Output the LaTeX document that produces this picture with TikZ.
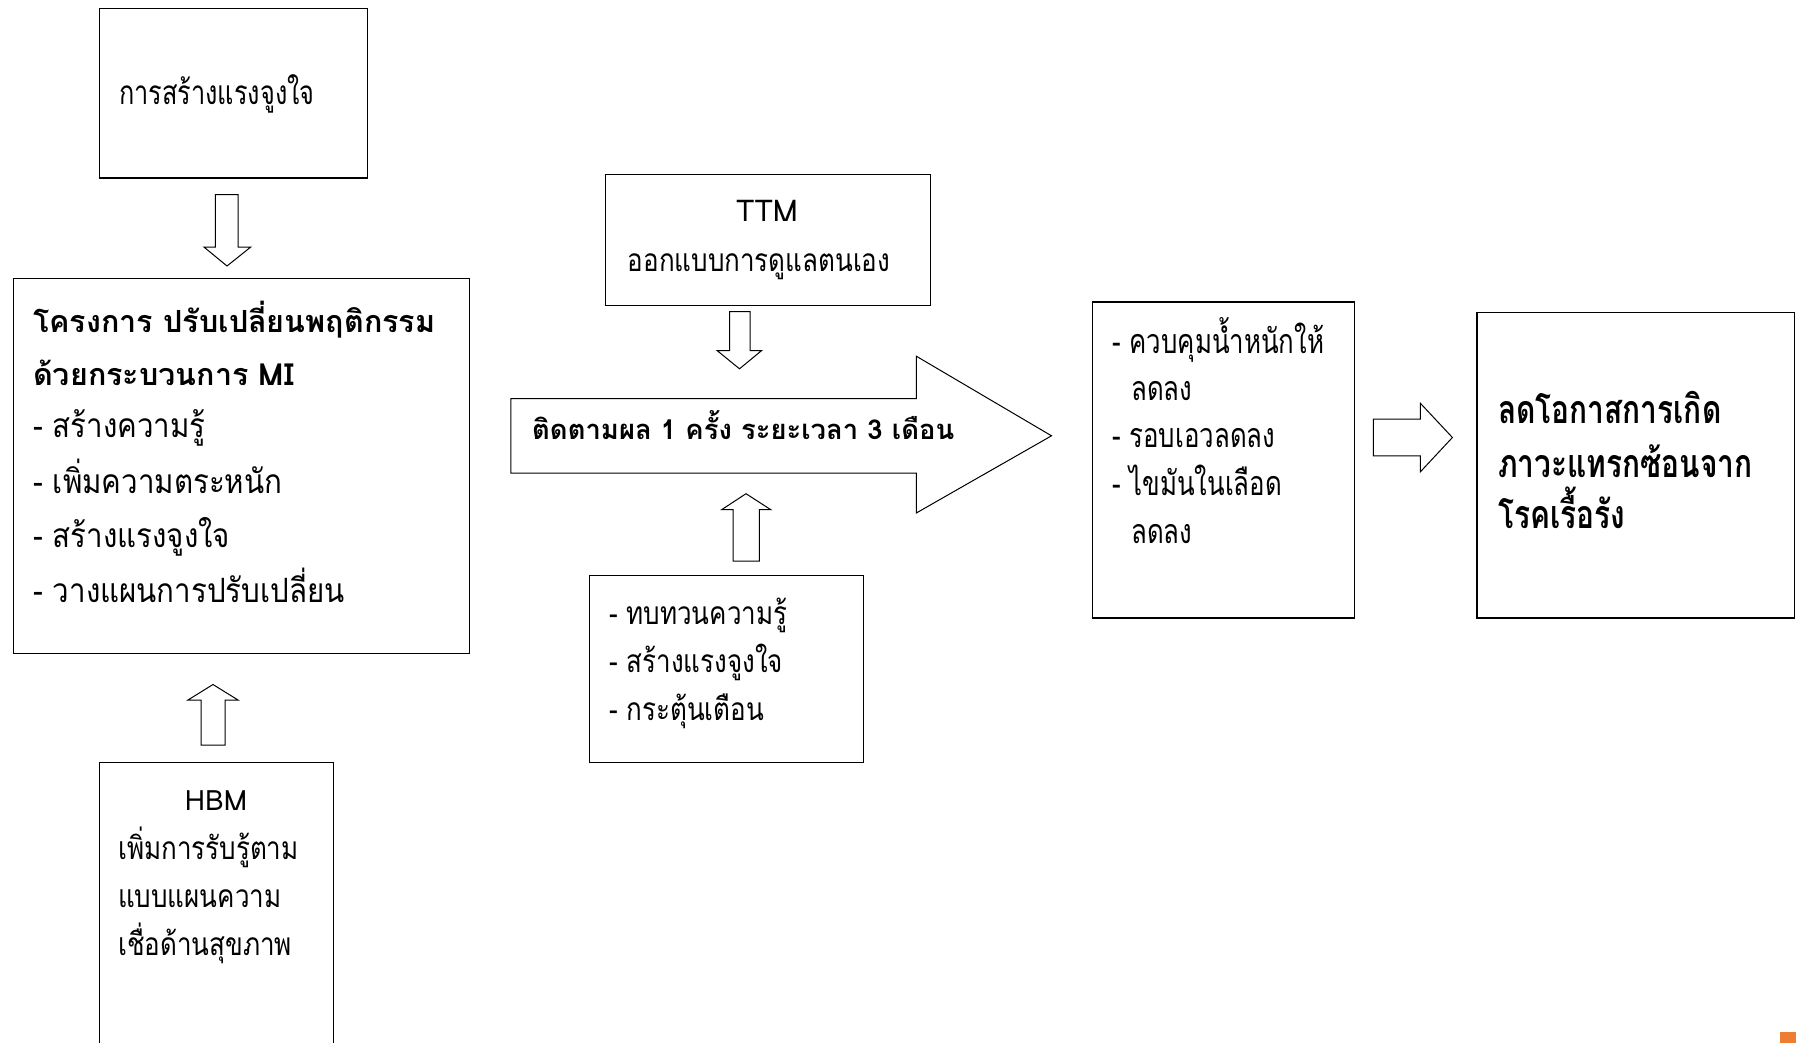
\documentclass[tikz,border=0pt]{standalone}
\usepackage{fontspec}
\newfontfamily\thai[Script=Thai]{Loma}
\newfontfamily\thaiK[Script=Thai,FakeStretch=0.82]{Loma}
\newfontfamily\thaiM[Script=Thai,FakeStretch=0.88]{Loma}
\newfontfamily\thaiC[Script=Thai,FakeStretch=0.76]{Loma}
\definecolor{accent}{HTML}{ED7D31}
\tikzset{
  box/.style={draw, line width=1.3pt, anchor=north west, inner sep=0pt},
  barrow/.style={draw, line width=1pt, fill=white, line join=miter},
  lw/.style={anchor=base west, inner sep=0pt},
  lc/.style={anchor=base, inner sep=0pt},
  f1txt/.style={lw, font=\thaiC\fontsize{33.3}{38}\selectfont},
  btxt/.style={lw, font=\thai\bfseries\fontsize{30.5}{34}\selectfont},
  mtxt/.style={lw, font=\thaiM\fontsize{33.5}{38}\selectfont},
  ktxt/.style={lw, font=\thaiK\fontsize{31.7}{36}\selectfont},
  ktxtc/.style={lc, font=\thaiK\fontsize{31.7}{36}\selectfont},
  lat/.style={lc, font=\thai\fontsize{30}{34}\selectfont},
  atxt/.style={lw, font=\thai\bfseries\fontsize{27.4}{30}\selectfont},
  ctxt/.style={lw, font=\thaiC\fontsize{34}{38}\selectfont},
  ftxt/.style={lw, font=\thaiC\bfseries\fontsize{39.3}{44}\selectfont},
}
\begin{document}
\begin{tikzpicture}[x=1pt,y=-1pt]
\clip (0,0) rectangle (1796,1043);
\fill[white] (0,0) rectangle (1796,1043);

% boxes
\node[box, minimum width=268pt, minimum height=169.5pt] (b1) at (98.5,8) {};
\node[box, minimum width=456pt, minimum height=375pt] (b2) at (12.6,278) {};
\node[box, minimum width=234.5pt, minimum height=320pt] (hbm) at (98.5,762) {};
\node[box, minimum width=325pt, minimum height=131pt] (ttm) at (605,174) {};
\node[box, minimum width=274pt, minimum height=186.7pt] (rev) at (588.7,575) {};
\node[box, minimum width=262.3pt, minimum height=316.2pt] (res) at (1091.6,301.2) {};
\node[box, minimum width=317.6pt, minimum height=305.9pt] (fin) at (1476.4,311.5) {};

% block arrows
\draw[barrow] (215.3,194.7) -- (238.2,194.7) -- (238.2,247) -- (250.8,247) -- (227,266) -- (203.9,247) -- (215.3,247) -- cycle;
\draw[barrow] (201,745) -- (225,745) -- (225,700) -- (238,700) -- (213,684.5) -- (188,700) -- (201,700) -- cycle;
\draw[barrow] (729.6,311.5) -- (750.2,311.5) -- (750.2,350.5) -- (761.7,350.5) -- (739.5,368.8) -- (717,350.5) -- (729.6,350.5) -- cycle;
\draw[barrow] (733,561.2) -- (759.4,561.2) -- (759.4,509.7) -- (770.8,509.7) -- (746,493.7) -- (721.6,509.7) -- (733,509.7) -- cycle;
\draw[barrow] (1373.3,419.2) -- (1420.3,419.2) -- (1420.3,403.2) -- (1452.4,437.5) -- (1420.3,471.9) -- (1420.3,455.9) -- (1373.3,455.9) -- cycle;
\draw[barrow] (510.8,398.6) -- (916.3,398.6) -- (916.3,356.2) -- (1051.5,435.8) -- (916.3,513) -- (916.3,473) -- (510.8,473) -- cycle;

% texts
\node[f1txt] (t1) at (119,105) {การสร้างแรงจูงใจ};

\node[btxt] (t2a) at (33,332) {โครงการ ปรับเปลี่ยนพฤติกรรม};
\node[btxt] (t2b) at (33,385) {ด้วยกระบวนการ MI};
\node[mtxt] (t2c) at (33,437) {- สร้างความรู้};
\node[mtxt] (t2d) at (33,493) {- เพิ่มความตระหนัก};
\node[mtxt] (t2e) at (33,547) {- สร้างแรงจูงใจ};
\node[mtxt] (t2f) at (33,602) {- วางแผนการปรับเปลี่ยน};

\node[lat, font=\thai\fontsize{28}{32}\selectfont] (h0) at (216,810) {HBM};
\node[ktxt] (h1) at (118,859) {เพิ่มการรับรู้ตาม};
\node[ktxt] (h2) at (118,907) {แบบแผนความ};
\node[ktxt] (h3) at (118,955) {เชื่อด้านสุขภาพ};

\node[lat] (m0) at (767,222) {TTM};
\node[ktxtc] (m1) at (759,271) {ออกแบบการดูแลตนเอง};

\node[atxt] (a1) at (532,439) {ติดตามผล 1 ครั้ง ระยะเวลา 3 เดือน};

\node[ktxt] (r1) at (609,624) {- ทบทวนความรู้};
\node[ktxt] (r2) at (609,672) {- สร้างแรงจูงใจ};
\node[ktxt] (r3) at (609,720) {- กระตุ้นเตือน};

\node[ctxt] (s1) at (1112,353) {- ควบคุมน้ำหนักให้};
\node[ctxt] (s2) at (1131,400) {ลดลง};
\node[ctxt] (s3) at (1112,447) {- รอบเอวลดลง};
\node[ctxt] (s4) at (1112,495) {- ไขมันในเลือด};
\node[ctxt] (s5) at (1131,543) {ลดลง};

\node[ftxt] (f1) at (1498,423) {ลดโอกาสการเกิด};
\node[ftxt] (f2) at (1498,477) {ภาวะแทรกซ้อนจาก};
\node[ftxt] (f3) at (1498,528) {โรคเรื้อรัง};

\fill[accent] (1780,1032) rectangle (1796,1043);
\end{tikzpicture}
\end{document}
